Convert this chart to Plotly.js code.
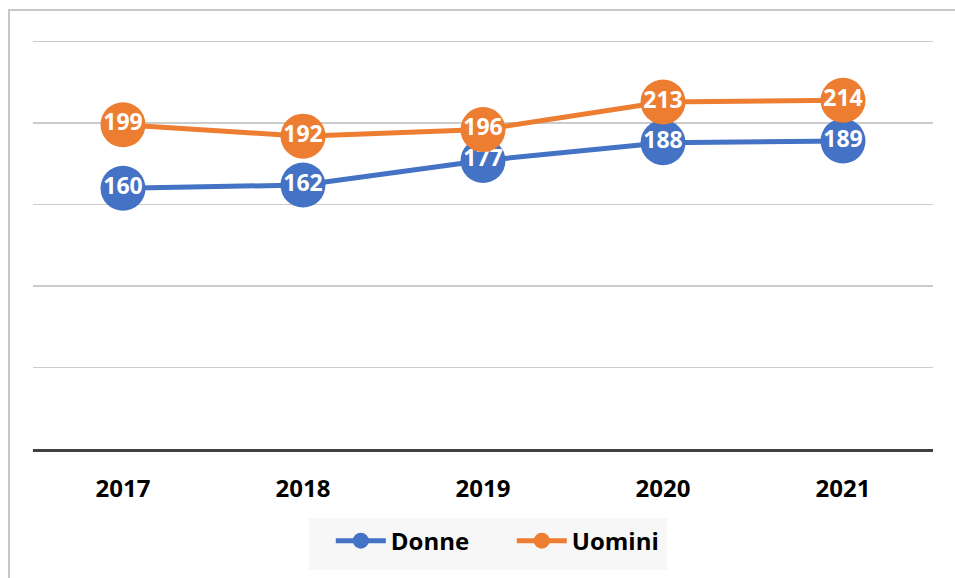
<!DOCTYPE html>
<html><head><meta charset="utf-8">
<script src="https://cdn.plot.ly/plotly-3.0.1.min.js"></script>
<style>
html,body{margin:0;padding:0;background:#fff;}
#frame{position:absolute;left:8px;top:9px;width:960px;height:580px;border-left:2px solid #c8c8c8;border-top:2px solid #c8c8c8;pointer-events:none;}
#chart{position:absolute;left:0;top:0;width:955px;height:578px;}
</style></head>
<body>
<div id="chart"></div>
<div id="frame"></div>
<script>
const years = ['2017','2018','2019','2020','2021'];
const donne = [160, 162, 177, 188, 189];
const uomini = [199, 192, 196, 213, 214];
const seriesNames = ['Donne', 'Uomini'];
const colors = ['#4472C4', '#ED7D31'];
const FONT = 'Open Sans, Noto Sans, sans-serif';

function trace(name, y, color){
  return {
    x: years, y: y, name: name, type: 'scatter',
    mode: 'lines+markers+text',
    line: {color: color, width: 5},
    marker: {color: color, size: 45},
    text: y.map(String), textposition: 'middle center',
    textfont: {color: '#ffffff', size: 23, family: FONT, weight: 'bold'},
    cliponaxis: false, hoverinfo: 'x+y'
  };
}
const data = [trace(seriesNames[0], donne, colors[0]), trace(seriesNames[1], uomini, colors[1])];
const layout = {
  width: 955, height: 578,
  margin: {l: 33, r: 22, t: 40, b: 129},
  paper_bgcolor: '#ffffff', plot_bgcolor: '#ffffff',
  showlegend: true,
  xaxis: {type: 'category', range: [-0.5, 4.5], showgrid: false, zeroline: false,
    showline: true, linecolor: '#404040', linewidth: 3, ticks: '',
    tickfont: {size: 24, color: '#000', family: FONT, weight: 'bold'},
    ticklabelstandoff: 16, fixedrange: true},
  yaxis: {range: [0, 251], tickmode: 'linear', tick0: 0, dtick: 50, showgrid: true, gridcolor: '#cccccc', gridwidth: 1.5,
    zeroline: false, showticklabels: false, ticks: '', fixedrange: true},
  legend: {orientation: 'h', x: 0.532, xanchor: 'center', y: -0.17, yanchor: 'top',
    bgcolor: 'rgba(0,0,0,0)', font: {size: 24, color: '#000', family: FONT, weight: 'bold'},
    itemwidth: 50, entrywidth: 116, tracegroupgap: 0, borderwidth: 0},
  shapes: [{type: 'rect', xref: 'paper', yref: 'paper', x0: 0.3067, x1: 0.7044, y0: -0.2958, y1: -0.1687,
    fillcolor: '#f7f7f7', line: {width: 0}, layer: 'below'}],
  font: {family: FONT}
};
Plotly.newPlot('chart', data, layout, {displayModeBar: false, staticPlot: true});
</script>
</body></html>
